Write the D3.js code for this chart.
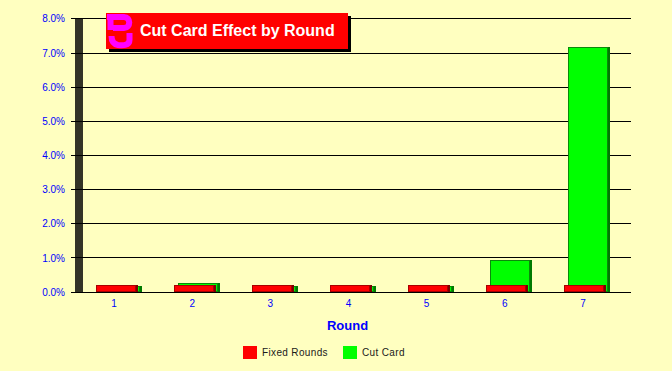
<!DOCTYPE html>
<html>
<head>
<meta charset="utf-8">
<script src="https://cdn.jsdelivr.net/npm/d3@7"></script>
<style>
  html, body { margin: 0; padding: 0; background: #ffffc0; overflow: hidden; }
  text { font-family: "Liberation Sans", Arial, sans-serif; }
</style>
</head>
<body>
<div id="chart"></div>
<script>
const rounds = ["1", "2", "3", "4", "5", "6", "7"];
const fixedRounds = [0.2, 0.2, 0.2, 0.2, 0.2, 0.2, 0.2];
const cutCard = [0.18, 0.24, 0.18, 0.18, 0.18, 0.93, 7.16];
const yTicks = [0, 1, 2, 3, 4, 5, 6, 7, 8];

const width = 672;
const height = 371;

const svg = d3.select("#chart")
  .append("svg")
  .attr("width", width)
  .attr("height", height)
  .style("display", "block");

const x = d3.scaleBand()
  .domain(rounds)
  .range([75, 622]);

const y = d3.scaleLinear()
  .domain([0, 8])
  .range([291.65, 18.45]);

// snap horizontal edges to whole pixels like the original
const py = d => Math.round(y(d));

// dark wall on the left of the plot
svg.append("rect")
  .attr("x", 75)
  .attr("y", py(8))
  .attr("width", 8)
  .attr("height", py(0) - py(8))
  .attr("fill", "#333326");

// gridlines
svg.append("g")
  .selectAll("line")
  .data(yTicks)
  .join("line")
  .attr("x1", 71)
  .attr("x2", 631)
  .attr("y1", d => py(d) + 0.5)
  .attr("y2", d => py(d) + 0.5)
  .attr("stroke", "#000");

// y labels
svg.append("g")
  .selectAll("text")
  .data(yTicks)
  .join("text")
  .attr("x", 65)
  .attr("y", d => y(d) + 4)
  .attr("text-anchor", "end")
  .attr("fill", "#0000ff")
  .style("font-size", "10px")
  .text(d => d.toFixed(1) + "%");

// x labels
svg.append("g")
  .selectAll("text")
  .data(rounds)
  .join("text")
  .attr("x", d => x(d) + x.bandwidth() / 2)
  .attr("y", 307)
  .attr("text-anchor", "middle")
  .attr("fill", "#0000ff")
  .style("font-size", "10px")
  .text(d => d);

function drawBars(values, dx, fill, shade, edge) {
  const g = svg.append("g");
  const barW = 40;
  const bx = i => Math.round(x(rounds[i]) + dx);
  // side shade
  g.selectAll(".shade")
    .data(values)
    .join("rect")
    .attr("class", "shade")
    .attr("x", (d, i) => bx(i) + barW)
    .attr("y", d => py(d))
    .attr("width", 2)
    .attr("height", d => py(0) - py(d))
    .attr("fill", shade);
  // front
  g.selectAll(".front")
    .data(values)
    .join("rect")
    .attr("class", "front")
    .attr("x", (d, i) => bx(i) + 0.5)
    .attr("y", d => py(d) + 0.5)
    .attr("width", barW - 1)
    .attr("height", d => py(0) - py(d) - 1)
    .attr("fill", fill)
    .attr("stroke", edge);
}

drawBars(cutCard, 24.6, "#00ff00", "#007a00", "#0a8a0a");
drawBars(fixedRounds, 20.6, "#ff0000", "#7a0000", "#a80000");

// axis line on top of bars
svg.append("line")
  .attr("x1", 71)
  .attr("x2", 631)
  .attr("y1", py(0) + 0.5)
  .attr("y2", py(0) + 0.5)
  .attr("stroke", "#000");

// title box
svg.append("rect").attr("x", 109).attr("y", 16).attr("width", 242).attr("height", 36).attr("fill", "#000");
svg.append("rect").attr("x", 106).attr("y", 13).attr("width", 242).attr("height", 36).attr("fill", "#ff0000");
svg.append("path")
  .attr("d", "M107 17 H124 C131 17 131 28 124 28 H113 M110.5 18 V30 M129.5 33 V40 C129.5 46 122 45.5 118 45 C113 44 111.5 41 111.5 36")
  .attr("fill", "none")
  .attr("stroke", "#ff00ff")
  .attr("stroke-width", 6);
svg.append("text")
  .attr("x", 140)
  .attr("y", 36)
  .attr("fill", "#fff")
  .style("font-size", "16px")
  .style("font-weight", "bold")
  .text("Cut Card Effect by Round");

// x axis title
svg.append("text")
  .attr("x", 347.5)
  .attr("y", 330)
  .attr("text-anchor", "middle")
  .attr("fill", "#0000ff")
  .style("font-size", "13px")
  .style("font-weight", "bold")
  .text("Round");

// legend
const legendNames = ["Fixed Rounds", "Cut Card"];
const legendColors = ["#ff0000", "#00ff00"];
const legendX = [243, 343];
const legend = svg.append("g");
legend.selectAll("rect")
  .data(legendNames)
  .join("rect")
  .attr("x", (d, i) => legendX[i])
  .attr("y", 346)
  .attr("width", 14)
  .attr("height", 13)
  .attr("fill", (d, i) => legendColors[i]);
legend.selectAll("text")
  .data(legendNames)
  .join("text")
  .attr("x", (d, i) => legendX[i] + 19)
  .attr("y", 356)
  .attr("fill", "#1a1a1a")
  .style("font-size", "10px")
  .style("letter-spacing", "0.35px")
  .text(d => d);
</script>
</body>
</html>
